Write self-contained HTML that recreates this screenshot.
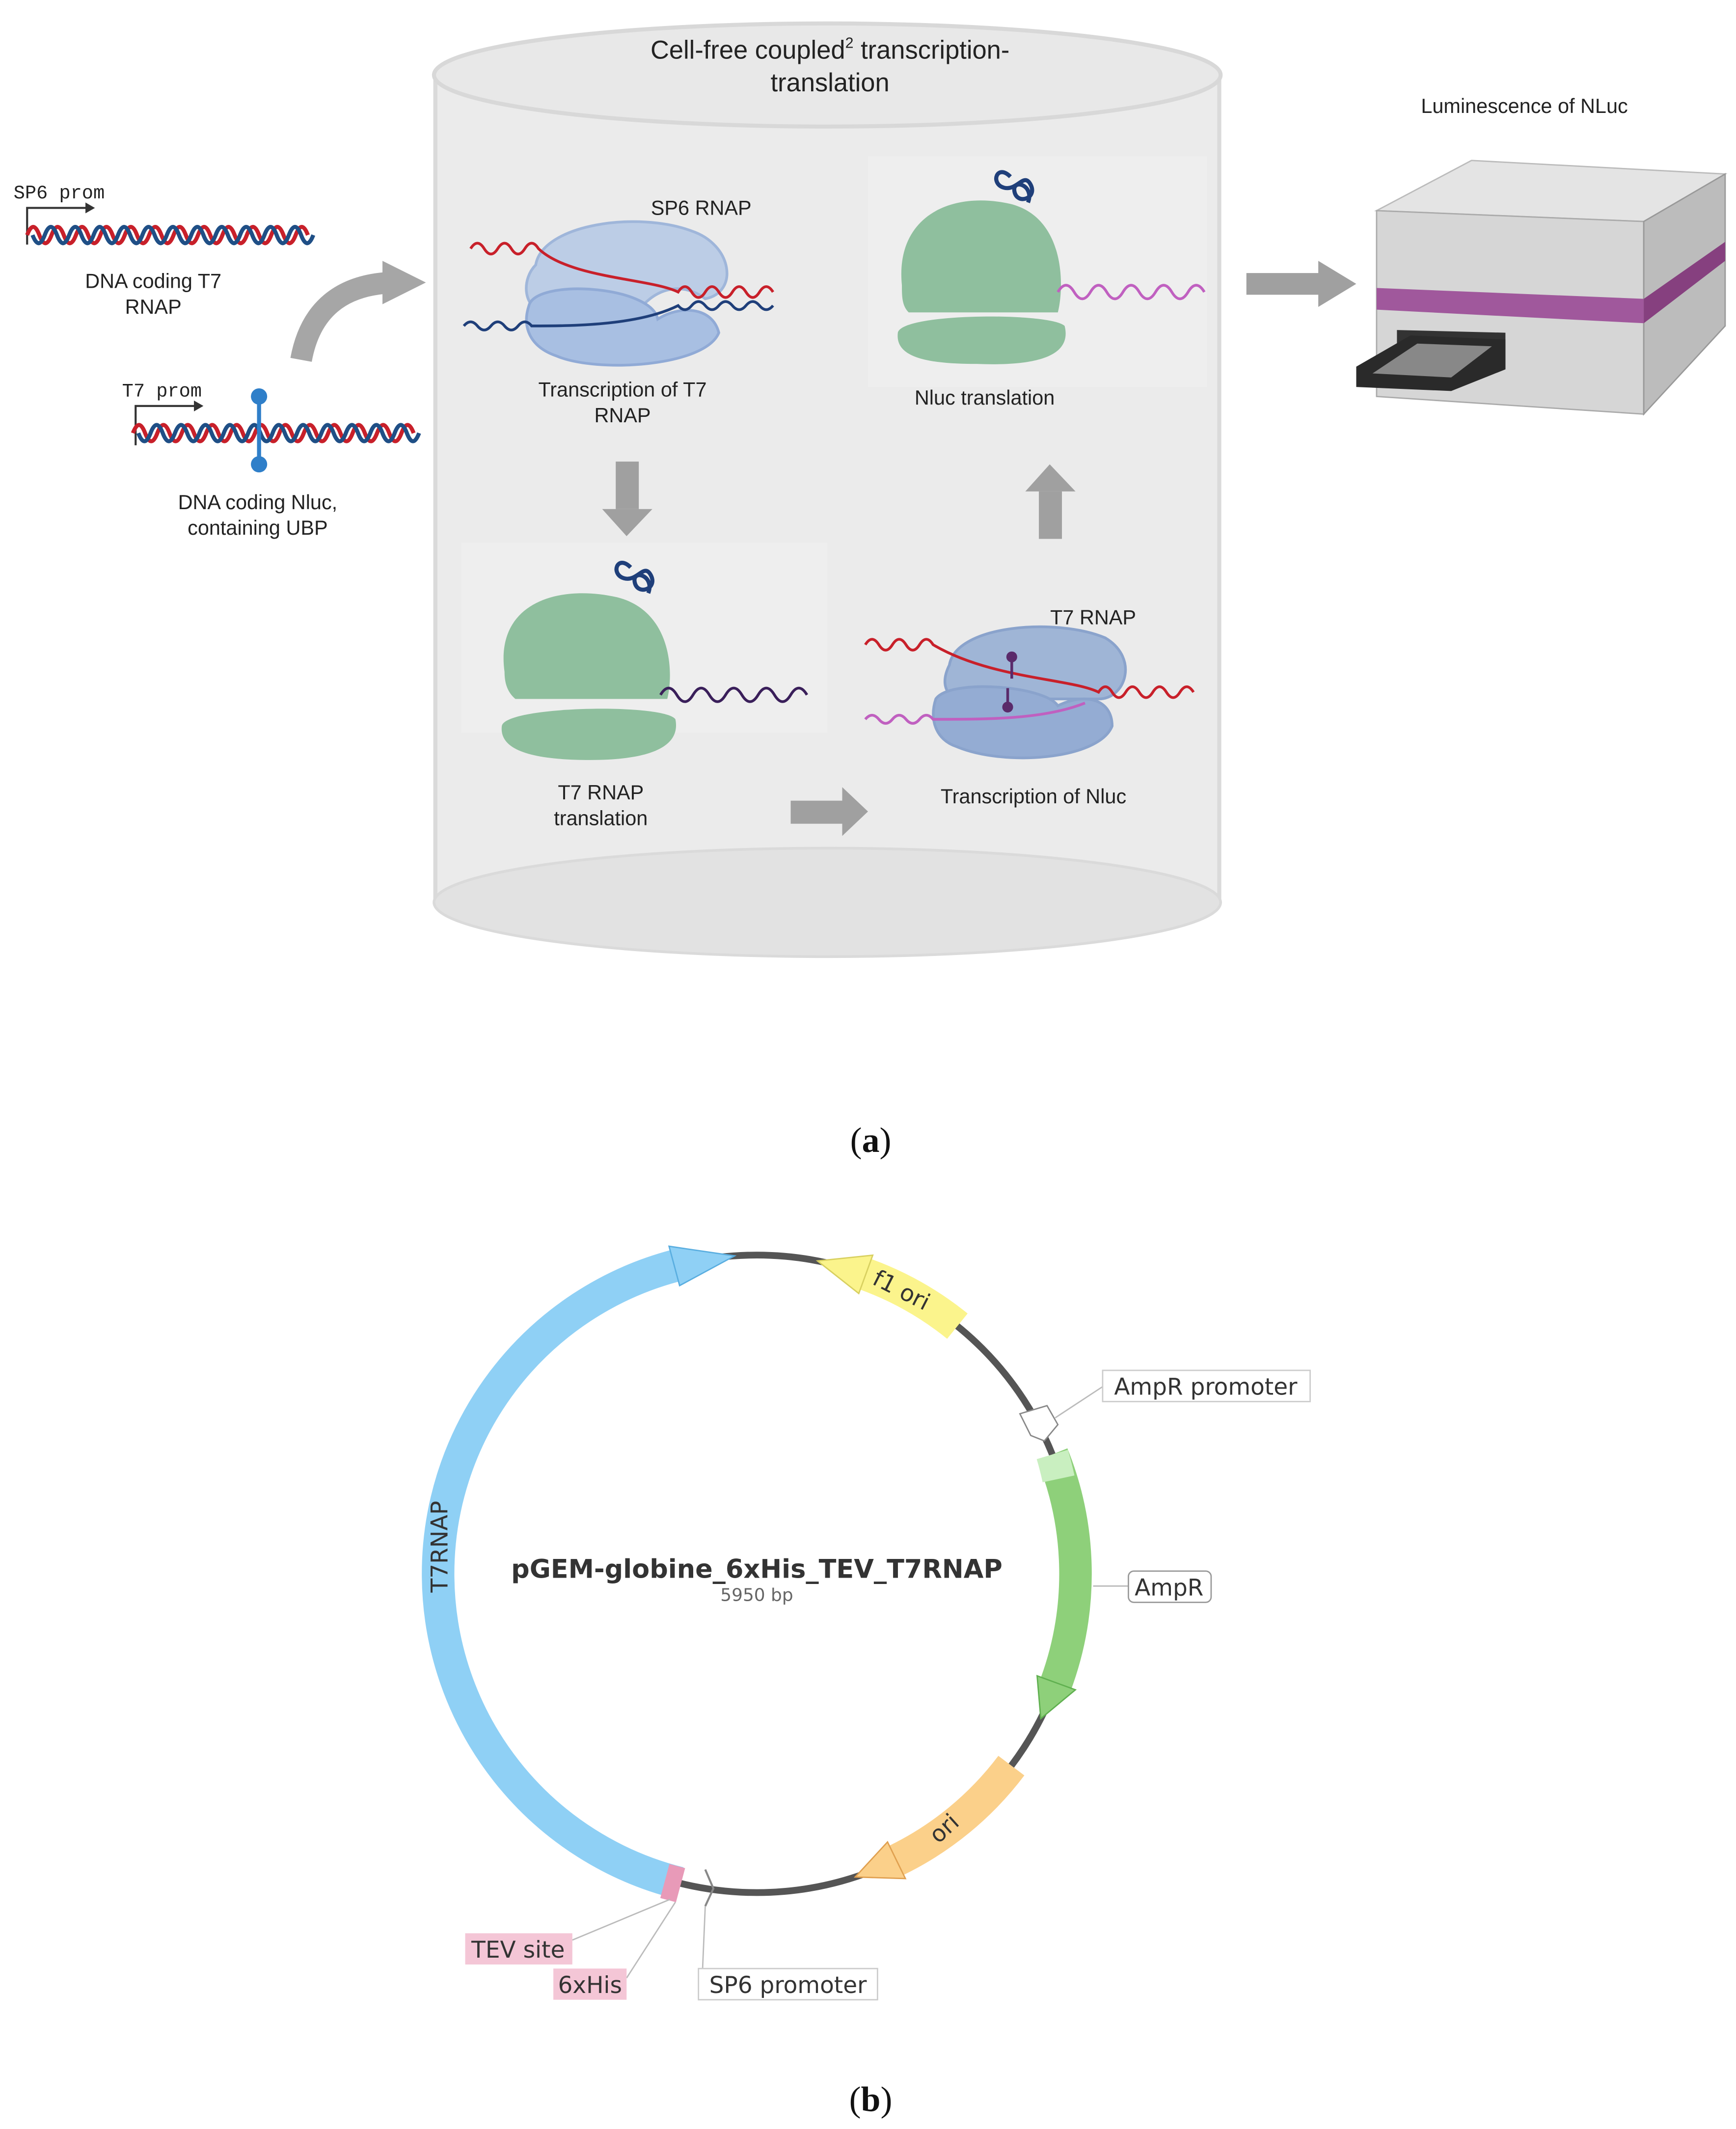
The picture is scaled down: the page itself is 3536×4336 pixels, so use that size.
<!DOCTYPE html>
<html><head><meta charset="utf-8"><style>
html,body{margin:0;padding:0;background:#fff;}
svg{display:block;}
text{font-family:"Liberation Sans",sans-serif;}
</style></head><body>
<svg width="3536" height="4336" viewBox="0 0 1280 1569" xmlns="http://www.w3.org/2000/svg">
<rect width="1280" height="1569" fill="#fff"/>
<!-- cylinder -->
<rect x="320" y="55" width="580" height="610" fill="#ebebeb"/>
<line x1="321" y1="55" x2="321" y2="665" stroke="#dadada" stroke-width="3"/>
<line x1="899" y1="55" x2="899" y2="665" stroke="#dadada" stroke-width="3"/>
<ellipse cx="610" cy="665" rx="290" ry="40" fill="#e2e2e2" stroke="#dadada" stroke-width="2"/>
<ellipse cx="610" cy="55" rx="290" ry="38" fill="#e8e8e8" stroke="#d8d8d8" stroke-width="3"/>
<rect x="640" y="115" width="250" height="170" fill="#eeeeee"/>
<rect x="340" y="400" width="270" height="140" fill="#eeeeee"/>
<text x="612" y="43" font-size="19" text-anchor="middle" fill="#222">Cell-free coupled<tspan font-size="11" dy="-8">2</tspan><tspan dy="8"> transcription-</tspan></text>
<text x="612" y="67" font-size="19" text-anchor="middle" fill="#222">translation</text>

<!-- left DNA 1 -->
<text x="10" y="146" font-family="Liberation Mono" font-size="14" fill="#222" style="font-family:'Liberation Mono',monospace">SP6 prom</text>
<path d="M20,180 V153 H65" fill="none" stroke="#333" stroke-width="1.5"/><path d="M63,149 L70,153 L63,157Z" fill="#333"/>
<path d="M20,173 q4.5,-12 9,0 t9,0 t9,0 t9,0 t9,0 t9,0 t9,0 t9,0 t9,0 t9,0 t9,0 t9,0 t9,0 t9,0 t9,0 t9,0 t9,0 t9,0 t9,0 t9,0 t9,0 t9,0 t9,0" fill="none" stroke="#c8202a" stroke-width="3"/>
<path d="M24,173 q4.5,12 9,0 t9,0 t9,0 t9,0 t9,0 t9,0 t9,0 t9,0 t9,0 t9,0 t9,0 t9,0 t9,0 t9,0 t9,0 t9,0 t9,0 t9,0 t9,0 t9,0 t9,0 t9,0 t9,0" fill="none" stroke="#1f4f86" stroke-width="3"/>
<text x="113" y="212" font-size="15" text-anchor="middle" fill="#222">DNA coding T7</text>
<text x="113" y="231" font-size="15" text-anchor="middle" fill="#222">RNAP</text>
<!-- curved arrow -->
<path d="M222,265 Q232,210 290,208" fill="none" stroke="#a6a6a6" stroke-width="16"/>
<path d="M282,192 L314,208 L282,224Z" fill="#a6a6a6"/>
<!-- left DNA 2 -->
<text x="90" y="292" font-size="14" fill="#222" style="font-family:'Liberation Mono',monospace">T7 prom</text>
<path d="M100,328 V299 H145" fill="none" stroke="#333" stroke-width="1.5"/><path d="M143,295 L150,299 L143,303Z" fill="#333"/>
<path d="M98,319 q4.5,-12 9,0 t9,0 t9,0 t9,0 t9,0 t9,0 t9,0 t9,0 t9,0 t9,0 t9,0 t9,0 t9,0 t9,0 t9,0 t9,0 t9,0 t9,0 t9,0 t9,0 t9,0 t9,0 t9,0" fill="none" stroke="#c8202a" stroke-width="3"/>
<path d="M102,319 q4.5,12 9,0 t9,0 t9,0 t9,0 t9,0 t9,0 t9,0 t9,0 t9,0 t9,0 t9,0 t9,0 t9,0 t9,0 t9,0 t9,0 t9,0 t9,0 t9,0 t9,0 t9,0 t9,0 t9,0" fill="none" stroke="#1f4f86" stroke-width="3"/>
<line x1="191" y1="292" x2="191" y2="342" stroke="#2f7fc9" stroke-width="3"/>
<circle cx="191" cy="292" r="6" fill="#2f7fc9"/><circle cx="191" cy="342" r="6" fill="#2f7fc9"/>
<text x="190" y="375" font-size="15" text-anchor="middle" fill="#222">DNA coding Nluc,</text>
<text x="190" y="394" font-size="15" text-anchor="middle" fill="#222">containing UBP</text>

<!-- SP6 RNAP transcription -->
<text x="517" y="158" font-size="15" text-anchor="middle" fill="#222">SP6 RNAP</text>
<path d="M395,195 C400,165 470,155 510,170 C540,180 545,215 520,220 C500,205 480,215 470,230 L400,230 C385,225 385,205 395,195Z" fill="#bccde6" stroke="#9fb6da" stroke-width="2"/>
<path d="M390,225 C395,205 480,210 485,235 C500,225 525,225 530,245 C520,270 440,275 410,262 C390,255 385,240 390,225Z" fill="#a8bfe2" stroke="#90aad6" stroke-width="2"/>
<path d="M347,183 q5,-8 10,0 t10,0 t10,0 t10,0 t10,0 C420,205 480,205 500,215 q5,-8 10,0 t10,0 t10,0 t10,0 t10,0 t10,0 t10,0" fill="none" stroke="#c8202a" stroke-width="2"/>
<path d="M342,240 q5,-6 10,0 t10,0 t10,0 t10,0 t10,0 C420,240 470,240 500,225 q5,6 10,0 t10,0 t10,0 t10,0 t10,0 t10,0 t10,0" fill="none" stroke="#1f3f7a" stroke-width="2"/>
<text x="459" y="292" font-size="15" text-anchor="middle" fill="#222">Transcription  of T7</text>
<text x="459" y="311" font-size="15" text-anchor="middle" fill="#222">RNAP</text>
<!-- down arrow -->
<rect x="454" y="340" width="17" height="35" fill="#a0a0a0"/><path d="M444,375 L481,375 L462,395Z" fill="#a0a0a0"/>

<!-- Nluc translation -->
<path d="M665,210 C660,160 700,140 745,150 C785,160 785,210 780,230 L670,230 C665,225 665,218 665,210Z" fill="#8fbf9e"/>
<path d="M662,245 C665,230 775,230 785,240 C790,260 770,270 720,268 C680,268 660,262 662,245Z" fill="#8fbf9e"/>
<path d="M745,130 c-10,-10 -15,5 -5,8 c10,3 15,-12 20,-2 c5,10 -10,15 -12,5 c-2,-10 15,-5 10,8" fill="none" stroke="#1f3f7a" stroke-width="3"/>
<path d="M780,215 q6,-10 12,0 t12,0 t12,0 t12,0 t12,0 t12,0 t12,0 t12,0 t12,0" fill="none" stroke="#c060c0" stroke-width="2"/>
<text x="726" y="298" font-size="15" text-anchor="middle" fill="#222">Nluc translation</text>
<!-- up arrow -->
<rect x="766" y="362" width="17" height="35" fill="#a0a0a0"/><path d="M756,362 L793,362 L774,342Z" fill="#a0a0a0"/>

<!-- T7 RNAP translation -->
<path d="M372,495 C365,445 410,430 455,440 C495,450 497,495 492,515 L380,515 C374,510 372,503 372,495Z" fill="#8fbf9e"/>
<path d="M370,535 C372,520 490,518 498,530 C502,550 480,560 435,560 C390,560 368,552 370,535Z" fill="#8fbf9e"/>
<path d="M465,418 c-10,-10 -15,5 -5,8 c10,3 15,-12 20,-2 c5,10 -10,15 -12,5 c-2,-10 15,-5 10,8" fill="none" stroke="#1f3f7a" stroke-width="3"/>
<path d="M487,512 q6,-10 12,0 t12,0 t12,0 t12,0 t12,0 t12,0 t12,0 t12,0 t12,0" fill="none" stroke="#3a1f5a" stroke-width="2"/>
<text x="443" y="589" font-size="15" text-anchor="middle" fill="#222">T7 RNAP</text>
<text x="443" y="608" font-size="15" text-anchor="middle" fill="#222">translation</text>
<!-- right arrow -->
<rect x="583" y="590" width="38" height="17" fill="#a0a0a0"/><path d="M621,580 L640,598 L621,616Z" fill="#a0a0a0"/>

<!-- Transcription of Nluc -->
<text x="806" y="460" font-size="15" text-anchor="middle" fill="#222">T7 RNAP</text>
<path d="M700,490 C705,460 780,455 815,470 C840,485 830,515 810,515 L705,515 C695,510 695,500 700,490Z" fill="#9fb5d6" stroke="#8aa3cc" stroke-width="2"/>
<path d="M690,515 C700,500 770,505 780,520 C800,510 820,515 820,535 C810,560 740,565 705,550 C690,545 685,530 690,515Z" fill="#94acd3" stroke="#8aa3cc" stroke-width="2"/>
<path d="M638,475 q5,-8 10,0 t10,0 t10,0 t10,0 t10,0 C730,500 790,500 810,510 q5,-8 10,0 t10,0 t10,0 t10,0 t10,0 t10,0 t10,0" fill="none" stroke="#c8202a" stroke-width="2"/>
<path d="M638,530 q5,-6 10,0 t10,0 t10,0 t10,0 t10,0 C730,530 770,530 800,518" fill="none" stroke="#c060c0" stroke-width="2"/>
<line x1="746" y1="485" x2="746" y2="500" stroke="#5a2a6a" stroke-width="2"/><circle cx="746" cy="484" r="4" fill="#5a2a6a"/>
<line x1="743" y1="507" x2="743" y2="520" stroke="#5a2a6a" stroke-width="2"/><circle cx="743" cy="521" r="4" fill="#5a2a6a"/>
<text x="762" y="592" font-size="15" text-anchor="middle" fill="#222">Transcription  of Nluc</text>

<!-- right arrow to reader -->
<rect x="919" y="201" width="55" height="16" fill="#a0a0a0"/><path d="M972,192 L1000,209 L972,226Z" fill="#a0a0a0"/>
<text x="1124" y="83" font-size="15" text-anchor="middle" fill="#222">Luminescence of NLuc</text>
<!-- plate reader -->
<path d="M1015,155 L1085,118 L1272,128 L1212,163Z" fill="#e4e4e4" stroke="#bbb"/>
<path d="M1015,155 L1212,163 L1212,305 L1015,292Z" fill="#d6d6d6" stroke="#aaa"/>
<path d="M1212,163 L1272,128 L1272,240 L1212,305Z" fill="#bcbcbc" stroke="#999"/>
<path d="M1015,212 L1212,220 L1212,238 L1015,228Z" fill="#a0589c"/>
<path d="M1212,220 L1272,178 L1272,192 L1212,238Z" fill="#86407f"/>
<path d="M1030,243 L1110,245 L1110,272 L1030,270Z" fill="#333"/>
<path d="M1000,270 L1040,247 L1110,250 L1110,272 L1070,288 L1000,285Z" fill="#2a2a2a"/>
<path d="M1012,275 L1045,253 L1100,255 L1070,278Z" fill="#888"/>

<text x="642" y="849" font-size="26" text-anchor="middle" style="font-family:'Liberation Serif',serif" fill="#111">(<tspan font-weight="bold">a</tspan>)</text>

<!-- plasmid -->
<circle cx="558" cy="1160" r="235" fill="none" stroke="#555" stroke-width="5"/>
<path d="M501.1,1388 A235,235 0 0 1 497.2,933" fill="none" stroke="#8fd0f5" stroke-width="24"/>
<path d="M501.1,1388 A235,235 0 0 1 497.2,933" fill="none" stroke="#6ab6e0" stroke-width="24" stroke-opacity="0" />
<path d="M493.3,918.5 L541.6,925.6 L501.1,947.5Z" fill="#8fd0f5" stroke="#5aaee0" stroke-width="1"/>
<path d="M638.4,939.2 A235,235 0 0 1 705.9,977.4" fill="none" stroke="#fbf48c" stroke-width="24"/>
<path d="M643.5,925.1 L602.8,929.3 L633.2,953.3Z" fill="#fbf48c" stroke="#d8d060" stroke-width="1"/>
<text transform="translate(662,956) rotate(27)" font-size="17" text-anchor="middle" fill="#333" style="font-family:'DejaVu Sans',sans-serif">f1 ori</text>
<path d="M752,1042 L772,1036 L780,1050 L770,1062 L760,1058Z" fill="#fff" stroke="#888"/>
<path d="M775.9,1072 A235,235 0 0 1 778.8,1240.4" fill="none" stroke="#8ed07a" stroke-width="24"/>
<path d="M775.9,1072 A235,235 0 0 1 780.5,1090" fill="none" stroke="#c9efc0" stroke-width="24"/>
<path d="M792.9,1245.5 L767.4,1266.7 L764.7,1235.2Z" fill="#8ed07a" stroke="#60b050" stroke-width="1"/>
<path d="M745.7,1301.4 A235,235 0 0 1 661,1371.2" fill="none" stroke="#fbd08a" stroke-width="24"/>
<path d="M667.6,1384.7 L630.6,1383.5 L654.4,1357.7Z" fill="#fbd08a" stroke="#e0a050" stroke-width="1"/>
<text transform="translate(700,1352) rotate(-42)" font-size="17" text-anchor="middle" fill="#333" style="font-family:'DejaVu Sans',sans-serif">ori</text>
<text transform="translate(330,1140) rotate(-90)" font-size="17" text-anchor="middle" fill="#333" style="font-family:'DejaVu Sans',sans-serif">T7RNAP</text>
<rect x="490" y="1375" width="12" height="26" fill="#e89ab8" transform="rotate(15 496 1388)"/>
<path d="M520,1378 L526,1392 L520,1405" fill="none" stroke="#888" stroke-width="1.5"/>
<text x="558" y="1163" font-size="19" font-weight="bold" text-anchor="middle" fill="#333" style="font-family:'DejaVu Sans',sans-serif">pGEM-globine_6xHis_TEV_T7RNAP</text>
<text x="558" y="1180" font-size="13" text-anchor="middle" fill="#666" style="font-family:'DejaVu Sans',sans-serif">5950 bp</text>
<!-- labels -->
<line x1="778" y1="1045" x2="813" y2="1022" stroke="#bbb"/>
<rect x="813" y="1010" width="153" height="23" fill="#fff" stroke="#ccc"/>
<text x="889" y="1028" font-size="17" text-anchor="middle" fill="#333" style="font-family:'DejaVu Sans',sans-serif">AmpR promoter</text>
<line x1="806" y1="1169" x2="832" y2="1169" stroke="#bbb"/>
<rect x="832" y="1158" width="61" height="23" rx="4" fill="#fff" stroke="#999"/>
<text x="862" y="1176" font-size="17" text-anchor="middle" fill="#333" style="font-family:'DejaVu Sans',sans-serif">AmpR</text>
<line x1="494" y1="1400" x2="422" y2="1430" stroke="#bbb"/>
<line x1="498" y1="1402" x2="462" y2="1458" stroke="#bbb"/>
<line x1="520" y1="1405" x2="518" y2="1452" stroke="#bbb"/>
<rect x="343" y="1425" width="79" height="23" fill="#f4c6d6"/>
<text x="382" y="1443" font-size="17" text-anchor="middle" fill="#333" style="font-family:'DejaVu Sans',sans-serif">TEV site</text>
<rect x="408" y="1451" width="54" height="23" fill="#f4c6d6"/>
<text x="435" y="1469" font-size="17" text-anchor="middle" fill="#333" style="font-family:'DejaVu Sans',sans-serif">6xHis</text>
<rect x="515" y="1451" width="132" height="23" fill="#fff" stroke="#ccc"/>
<text x="581" y="1469" font-size="17" text-anchor="middle" fill="#333" style="font-family:'DejaVu Sans',sans-serif">SP6 promoter</text>

<text x="642" y="1556" font-size="26" text-anchor="middle" style="font-family:'Liberation Serif',serif" fill="#111">(<tspan font-weight="bold">b</tspan>)</text>
</svg>
</body></html>
